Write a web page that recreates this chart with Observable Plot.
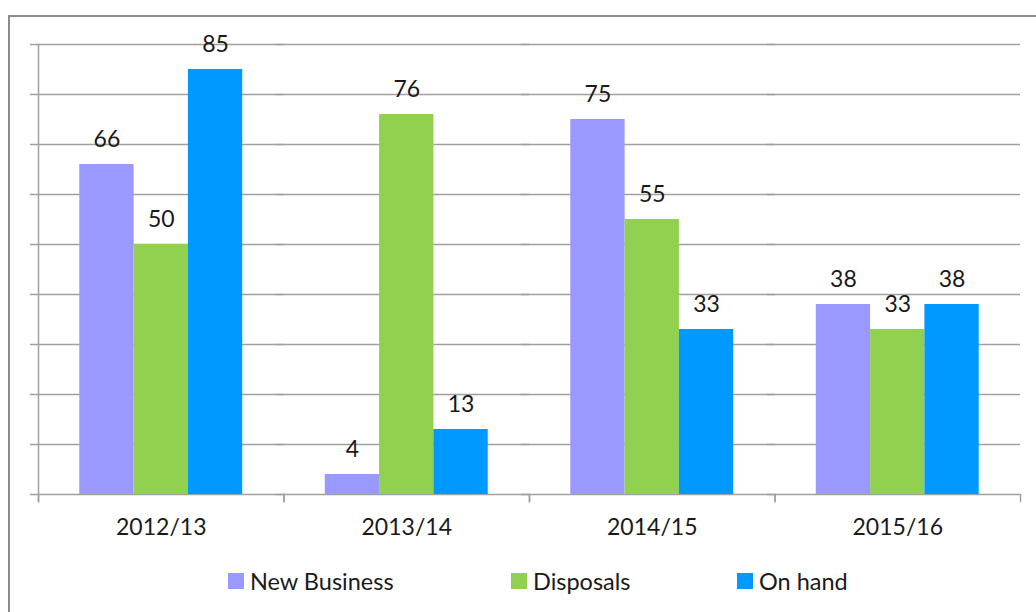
<!DOCTYPE html>
<html>
<head>
<meta charset="utf-8">
<script src="https://cdn.jsdelivr.net/npm/d3@7"></script>
<script src="https://cdn.jsdelivr.net/npm/@observablehq/plot@0.6"></script>
<style>
  html, body { margin: 0; padding: 0; background: #fff; }
  body { width: 1036px; height: 612px; position: relative; overflow: hidden; font-family: Lato, sans-serif; }
  #border { position: absolute; left: 8px; top: 15px; width: 1100px; height: 700px; border: 2px solid #8c8c8c; box-sizing: border-box; }
  #chart { position: absolute; left: 0; top: 0; }
  #legend { position: absolute; left: 228px; top: 567px; display: flex; align-items: center; font-size: 23.5px; color: #1a1a1a; }
  #legend .item { display: flex; align-items: center; flex: none; }
  #legend .item:nth-child(1) { width: 283px; }
  #legend .item:nth-child(2) { width: 226px; }
  #legend .sw { width: 16px; height: 16px; margin-right: 6px; }
</style>
</head>
<body>
<div id="border"></div>
<div id="chart"></div>
<div id="legend"></div>
<script>
const categories = ["2012/13", "2013/14", "2014/15", "2015/16"];
const series = ["New Business", "Disposals", "On hand"];
const newBusiness = [66, 4, 75, 38];
const disposals = [50, 76, 55, 33];
const onHand = [85, 13, 33, 38];
const colors = ["#9999FF", "#92D050", "#0099FF"];
const yTicks = [0, 10, 20, 30, 40, 50, 60, 70, 80, 90];

const seriesValues = [newBusiness, disposals, onHand];
const rows = categories.flatMap((c, i) =>
  series.map((s, j) => ({category: c, series: s, value: seriesValues[j][i]}))
);

const W = 1036, H = 545, mt = 44, mb = 51;
const innerH = H - mt - mb;
const gridColor = "#a0a0a0";

const chart = Plot.plot({
  width: W,
  height: H,
  marginLeft: 38,
  marginRight: 16,
  marginTop: mt,
  marginBottom: mb,
  style: {fontFamily: "Lato, sans-serif", fontSize: "23px", color: "#1a1a1a", background: "transparent", overflow: "visible"},
  fx: {domain: categories, padding: 0, round: false, label: null},
  x: {domain: series, paddingInner: 0, paddingOuter: 0.76, round: false, axis: null},
  y: {domain: [0, 90], axis: null},
  color: {domain: series, range: colors},
  marks: [
    Plot.ruleY(yTicks, {stroke: gridColor, strokeWidth: 1.5, insetLeft: -8}),
    Plot.frame({anchor: "left", fx: () => categories[0], stroke: gridColor, strokeWidth: 1.5, insetBottom: -7}),
    Plot.frame({anchor: "left", stroke: gridColor, strokeWidth: 1.5, insetTop: innerH, insetBottom: -7}),
    Plot.frame({anchor: "right", stroke: gridColor, strokeWidth: 1.5, insetTop: innerH, insetBottom: -7}),
    Plot.barY(rows, {fx: "category", x: "series", y: "value", fill: "series"}),
    Plot.text(rows, {fx: "category", x: "series", y: "value", text: d => String(d.value), dy: -25, fill: "#1a1a1a", fontSize: 23}),
    Plot.axisFx({anchor: "bottom", tickSize: 0, tickPadding: 24, fontSize: 23, fill: "#1a1a1a", label: null})
  ]
});
document.getElementById("chart").appendChild(chart);

const legend = document.getElementById("legend");
series.forEach((s, i) => {
  const item = document.createElement("div");
  item.className = "item";
  const sw = document.createElement("div");
  sw.className = "sw";
  sw.style.background = colors[i];
  const label = document.createElement("span");
  label.textContent = s;
  item.appendChild(sw);
  item.appendChild(label);
  legend.appendChild(item);
});
</script>
</body>
</html>
